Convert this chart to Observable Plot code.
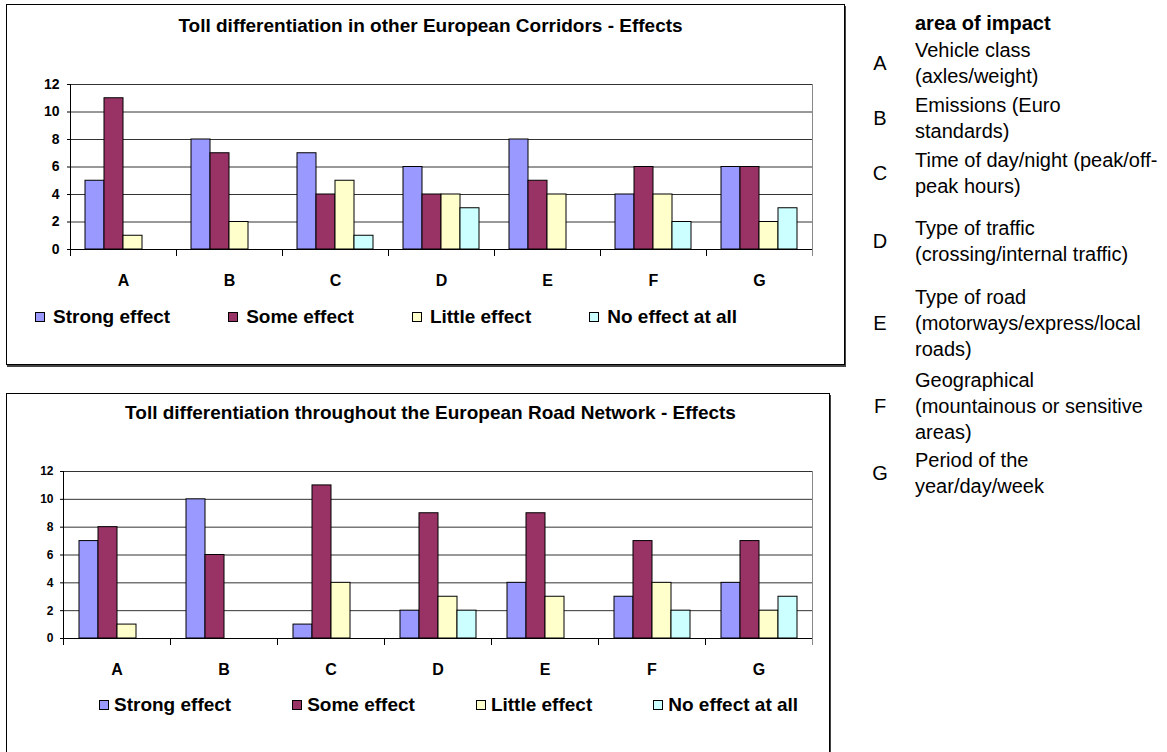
<!DOCTYPE html>
<html>
<head>
<meta charset="utf-8">
<script src="https://cdn.jsdelivr.net/npm/d3@7"></script>
<script src="https://cdn.jsdelivr.net/npm/@observablehq/plot@0.6"></script>
<style>
  body { margin: 0; background: #fff; color: #000; font-family: 'Liberation Sans', Arial, sans-serif; }
  #page { position: relative; width: 1167px; height: 752px; overflow: hidden; background: #fff; }
  .frame { position: absolute; box-sizing: border-box; border: 1px solid #000; box-shadow: 1px 2px 0 #444; background: #fff; }
  .plotwrap { position: absolute; left: 0; }
  .plotwrap svg { background: transparent !important; overflow: visible; }
  .title { position: absolute; left: 0; width: 861px; font-weight: bold; font-size: 19px; line-height: 19px; text-align: center; white-space: nowrap; }
  .legend { position: absolute; display: flex; align-items: center; font-weight: bold; font-size: 19px; line-height: 19px; white-space: nowrap; }
  .legend .item { display: flex; align-items: center; }
  .legend .sw { width: 8px; height: 8px; border: 1px solid #000; }
  #areaHead { position: absolute; left: 915px; top: 10px; font-weight: bold; font-size: 20px; line-height: 26px; white-space: nowrap; }
  #areas { position: absolute; left: 860px; top: 37px; width: 307px; font-size: 20px; line-height: 26px; }
  #areas .row { display: flex; align-items: center; }
  #areas .letter { width: 40px; text-align: center; flex: none; }
  #areas .desc { margin-left: 15px; white-space: pre; }
</style>
</head>
<body>
<div id="page"></div>
<script>
// ---------- data ----------
const categories = ["A", "B", "C", "D", "E", "F", "G"];
const seriesNames = ["Strong effect", "Some effect", "Little effect", "No effect at all"];
const seriesColors = ["#9999FF", "#993366", "#FFFFCC", "#CCFFFF"];
const yTicks = [0, 2, 4, 6, 8, 10, 12];

const corridorsTitle = "Toll differentiation in other European Corridors - Effects";
const corridorsStrong = [5, 8, 7, 6, 8, 4, 6];
const corridorsSome   = [11, 7, 4, 4, 5, 6, 6];
const corridorsLittle = [1, 2, 5, 4, 4, 4, 2];
const corridorsNone   = [0, 0, 1, 3, 0, 2, 3];

const networkTitle = "Toll differentiation throughout the European Road Network - Effects";
const networkStrong = [7, 10, 1, 2, 4, 3, 4];
const networkSome   = [8, 6, 11, 9, 9, 7, 7];
const networkLittle = [1, 0, 4, 3, 3, 4, 2];
const networkNone   = [0, 0, 0, 2, 0, 2, 3];

const areaHeading = "area of impact";
const areaLetters = ["A", "B", "C", "D", "E", "F", "G"];
const areaDescriptions = [
  "Vehicle class\n(axles/weight)",
  "Emissions (Euro\nstandards)",
  "Time of day/night (peak/off-\npeak hours)",
  "Type of traffic\n(crossing/internal traffic)",
  "Type of road\n(motorways/express/local\nroads)",
  "Geographical\n(mountainous or sensitive\nareas)",
  "Period of the\nyear/day/week"
];

// ---------- layout helpers ----------
const page = document.getElementById("page");
function el(tag, cls, parent) {
  const e = document.createElement(tag);
  if (cls) e.className = cls;
  (parent || page).appendChild(e);
  return e;
}

function buildChart(seriesValues, o) {
  const data = [];
  categories.forEach((c, i) => {
    seriesNames.forEach((s, j) => {
      data.push({category: c, series: s, value: seriesValues[j][i]});
    });
  });
  const plotH = o.height - o.marginTop - o.marginBottom;
  return Plot.plot({
    width: o.width,
    height: o.height,
    marginLeft: o.marginLeft,
    marginRight: o.marginRight,
    marginTop: o.marginTop,
    marginBottom: o.marginBottom,
    style: {
      fontFamily: "'Liberation Sans', Arial, sans-serif",
      fontWeight: "bold",
      background: "transparent",
      overflow: "visible",
      color: "#000"
    },
    fx: {domain: categories, padding: 0},
    x: {domain: seriesNames, paddingInner: 0, paddingOuter: 0.78, axis: null},
    y: {domain: [0, 12]},
    color: {domain: seriesNames, range: seriesColors},
    marks: [
      Plot.gridY(yTicks, {stroke: "#333", strokeOpacity: 1}),
      Plot.ruleY([0], {stroke: "#000"}),
      Plot.frame({anchor: "right", facetAnchor: "right", stroke: "#888", insetBottom: -6}),
      Plot.frame({anchor: "left", stroke: "#000", insetTop: plotH, insetBottom: -6}),
      Plot.frame({anchor: "left", facetAnchor: "left", stroke: "#000", insetBottom: -6}),
      Plot.barY(data.filter(d => d.value > 0), {
        fx: "category", x: "series", y: "value", fill: "series",
        stroke: "#000", strokeWidth: 1
      }),
      Plot.axisY(yTicks, {tickSize: 3, tickPadding: o.tickPadding, fontSize: o.tickFont, label: null}),
      Plot.axisFx({anchor: "bottom", tickSize: 0, tickPadding: 25, fontSize: 16, label: null})
    ]
  });
}

function buildLegend(left, top, gap, swGap) {
  const lg = el("div", "legend");
  lg.style.left = left + "px";
  lg.style.top = top + "px";
  lg.style.gap = gap + "px";
  seriesNames.forEach((s, i) => {
    const it = el("div", "item", lg);
    const sw = el("div", "sw", it);
    sw.style.background = seriesColors[i];
    const t = el("span", null, it);
    t.style.marginLeft = swGap + "px";
    t.textContent = s;
  });
}

// ---------- top chart ----------
const f1 = el("div", "frame");
Object.assign(f1.style, {left: "6px", top: "4px", width: "839px", height: "361px"});
const t1 = el("div", "title");
t1.style.top = "16px";
t1.textContent = corridorsTitle;
const w1 = el("div", "plotwrap");
w1.style.top = "0px";
w1.appendChild(buildChart([corridorsStrong, corridorsSome, corridorsLittle, corridorsNone], {
  width: 845, height: 300, marginLeft: 68, marginRight: 32, marginTop: 84, marginBottom: 51,
  tickPadding: 8, tickFont: 14
}));
buildLegend(35, 307, 58, 8);

// ---------- bottom chart ----------
const f2 = el("div", "frame");
Object.assign(f2.style, {left: "6px", top: "393px", width: "824px", height: "400px"});
const t2 = el("div", "title");
t2.style.top = "403px";
t2.textContent = networkTitle;
const w2 = el("div", "plotwrap");
w2.style.top = "380px";
w2.appendChild(buildChart([networkStrong, networkSome, networkLittle, networkNone], {
  width: 829, height: 300, marginLeft: 63, marginRight: 17, marginTop: 91, marginBottom: 42,
  tickPadding: 7, tickFont: 12
}));
buildLegend(99, 695, 61, 5);

// ---------- area of impact key ----------
const head = el("div");
head.id = "areaHead";
head.textContent = areaHeading;
const areas = el("div");
areas.id = "areas";
const rowGaps = [3, 3, 16, 17, 5, 2, 0];
areaLetters.forEach((L, i) => {
  const r = el("div", "row", areas);
  r.style.marginBottom = rowGaps[i] + "px";
  const l = el("div", "letter", r);
  l.textContent = L;
  const d = el("div", "desc", r);
  d.textContent = areaDescriptions[i];
});
</script>
</body>
</html>
